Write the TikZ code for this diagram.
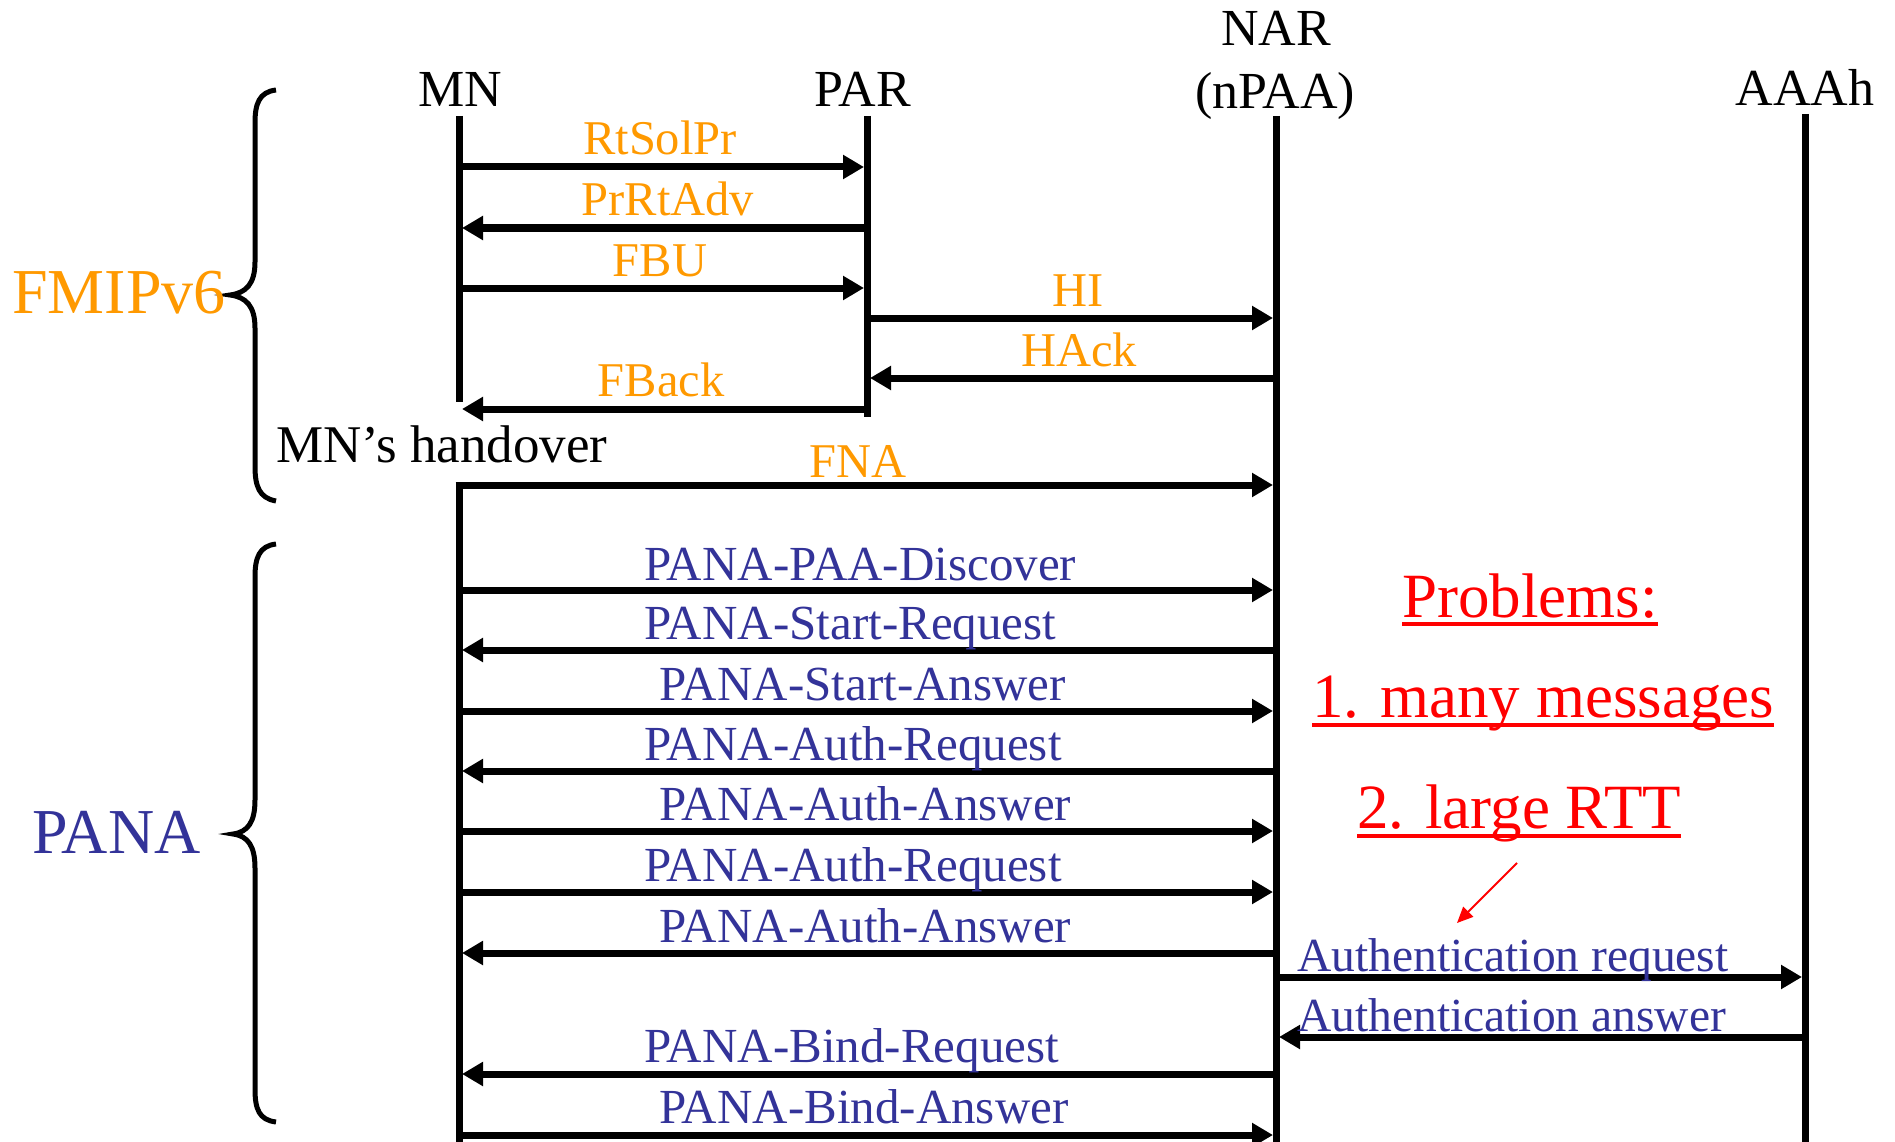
\documentclass[tikz,border=0pt]{standalone}
\usepackage{fontspec}
\setmainfont{Liberation Serif}
\usetikzlibrary{arrows.meta}
\definecolor{orng}{HTML}{FF9900}
\definecolor{pblue}{HTML}{333399}
\definecolor{pred}{HTML}{FF0000}
\begin{document}
\begin{tikzpicture}[x=1pt,y=-1pt,
  lifeline/.style={line width=7pt},
  msg/.style={line width=7pt,-{Triangle[length=21pt,width=23pt]},shorten >=3pt},
  lab/.style={inner sep=0pt,anchor=base,font=\fontsize{48.5}{56}\selectfont},
  labw/.style={inner sep=0pt,anchor=base west,font=\fontsize{49}{56}\selectfont},
  labs/.style={inner sep=0pt,anchor=base west,font=\fontsize{47.5}{56}\selectfont},
  head/.style={inner sep=0pt,anchor=base,font=\fontsize{52}{60}\selectfont},
  big/.style={inner sep=0pt,anchor=base west,font=\fontsize{63}{72}\selectfont},
  bracestroke/.style={line width=5pt},
  uline/.style={pred,line width=4.5pt},
]
\useasboundingbox (0,0) rectangle (1895,1142);

% lifeline columns
\coordinate (mn) at (459,0);
\coordinate (par) at (867,0);
\coordinate (nar) at (1276,0);
\coordinate (aaa) at (1805,0);

% headers
\node[head] (hMN) at (460,107) {MN};
\node[head] (hPAR) at (863,107) {PAR};
\node[head] (hNAR) at (1276,46) {NAR};
\node[head] (hNPAA) at (1275,109) {(nPAA)};
\node[head] (hAAA) at (1805,106) {AAAh};

% lifelines
\coordinate (mnTop) at (459,116);
\coordinate (mnMid) at (459,402);
\coordinate (mnLow) at (459,482);
\coordinate (mnBot) at (459,1142);
\coordinate (parTop) at (867,116);
\coordinate (parBot) at (867,417);
\coordinate (narTop) at (1276,116);
\coordinate (narBot) at (1276,1142);
\coordinate (aaaTop) at (1805,114);
\coordinate (aaaBot) at (1805,1142);
\draw[lifeline] (mnTop) -- (mnMid);
\draw[lifeline] (mnLow) -- (mnBot);
\draw[lifeline] (parTop) -- (parBot);
\draw[lifeline] (narTop) -- (narBot);
\draw[lifeline] (aaaTop) -- (aaaBot);

% message rows
\coordinate (r1) at (0,167);
\coordinate (r2) at (0,228);
\coordinate (r3) at (0,288);
\coordinate (r4) at (0,318);
\coordinate (r5) at (0,378);
\coordinate (r6) at (0,409);
\coordinate (r7) at (0,485);
\coordinate (r8) at (0,590);
\coordinate (r9) at (0,650);
\coordinate (r10) at (0,711);
\coordinate (r11) at (0,771);
\coordinate (r12) at (0,831);
\coordinate (r13) at (0,892);
\coordinate (r14) at (0,953);
\coordinate (r15) at (0,977);
\coordinate (r16) at (0,1037);
\coordinate (r17) at (0,1074);
\coordinate (r18) at (0,1135);
\coordinate (fnaStart) at (455.5,485);

% FMIPv6 messages
\draw[msg] (mn |- r1) -- (par |- r1);
\draw[msg] (par |- r2) -- (mn |- r2);
\draw[msg] (mn |- r3) -- (par |- r3);
\draw[msg] (par |- r4) -- (nar |- r4);
\draw[msg] (nar |- r5) -- (par |- r5);
\draw[msg] (par |- r6) -- (mn |- r6);
\draw[msg] (fnaStart) -- (nar |- r7);

\node[lab,text=orng] (lRtSolPr) at (660,155) {RtSolPr};
\node[lab,text=orng] (lPrRtAdv) at (668,215) {PrRtAdv};
\node[lab,text=orng] (lFBU) at (660,276) {FBU};
\node[lab,text=orng] (lHI) at (1078,306) {HI};
\node[lab,text=orng] (lHAck) at (1079,366) {HAck};
\node[lab,text=orng] (lFBack) at (661,396) {FBack};
\node[lab,text=orng] (lFNA) at (858,477) {FNA};

\node[inner sep=0pt,anchor=base west,font=\fontsize{53}{60}\selectfont] (handover) at (276,462) {MN’s handover};

% PANA messages
\draw[msg] (mn |- r8) -- (nar |- r8);
\draw[msg] (nar |- r9) -- (mn |- r9);
\draw[msg] (mn |- r10) -- (nar |- r10);
\draw[msg] (nar |- r11) -- (mn |- r11);
\draw[msg] (mn |- r12) -- (nar |- r12);
\draw[msg] (mn |- r13) -- (nar |- r13);
\draw[msg] (nar |- r14) -- (mn |- r14);
\draw[msg] (nar |- r15) -- (aaa |- r15);
\draw[msg] (aaa |- r16) -- (nar |- r16);
\draw[msg] (nar |- r17) -- (mn |- r17);
\draw[msg] (mn |- r18) -- (nar |- r18);

\node[labw,text=pblue] (l8) at (644,580) {PANA-PAA-Discover};
\node[labw,text=pblue] (l9) at (644,639) {PANA-Start-Request};
\node[labw,text=pblue] (l10) at (659,700) {PANA-Start-Answer};
\node[labw,text=pblue] (l11) at (644,760) {PANA-Auth-Request};
\node[labw,text=pblue] (l12) at (659,820) {PANA-Auth-Answer};
\node[labw,text=pblue] (l13) at (644,881) {PANA-Auth-Request};
\node[labw,text=pblue] (l14) at (659,942) {PANA-Auth-Answer};
\node[labs,text=pblue] (l15) at (1297,971) {Authentication request};
\node[labs,text=pblue] (l16) at (1297,1031) {Authentication answer};
\node[labw,text=pblue] (l17) at (644,1062) {PANA-Bind-Request};
\node[labw,text=pblue] (l18) at (659,1123) {PANA-Bind-Answer};

% braces
\draw[bracestroke] (276,90) .. controls (259,92) and (255,104) .. (255,123)
  -- (255,262) .. controls (255,284) and (246,293) .. (230,295)
  .. controls (246,297) and (255,306) .. (255,328)
  -- (255,466) .. controls (255,486) and (259,498) .. (276,501);
\draw[bracestroke] (276,544) .. controls (259,546) and (255,558) .. (255,577)
  -- (255,800) .. controls (255,822) and (248,832) .. (233,834)
  .. controls (248,836) and (255,846) .. (255,868)
  -- (255,1089) .. controls (255,1109) and (259,1120) .. (276,1122);

\node[inner sep=0pt,anchor=base east,text=orng,font=\fontsize{64}{72}\selectfont] (fmip) at (226,313) {FMIPv6};
\node[inner sep=0pt,anchor=base west,text=pblue,font=\fontsize{64}{72}\selectfont] (pana) at (32,853) {PANA};

% problems
\node[big,text=pred] (pb) at (1402,617) {Problems:};
\draw[uline] ([yshift=-7pt]pb.base west) -- ([yshift=-7pt]pb.base east);
\node[big,text=pred] (p1) at (1312,717) {1. many messages};
\draw[uline] ([yshift=-8pt]p1.base west) -- ([yshift=-8pt]p1.base east);
\node[big,text=pred] (p2) at (1357,828) {2. large RTT};
\draw[uline] ([yshift=-8pt]p2.base west) -- ([yshift=-8pt]p2.base east);

\coordinate (ra1) at (1517,863);
\coordinate (ra2) at (1457,923);
\draw[pred,line width=2pt,-{Triangle[length=16pt,width=14pt]}] (ra1) -- (ra2);
\end{tikzpicture}
\end{document}
